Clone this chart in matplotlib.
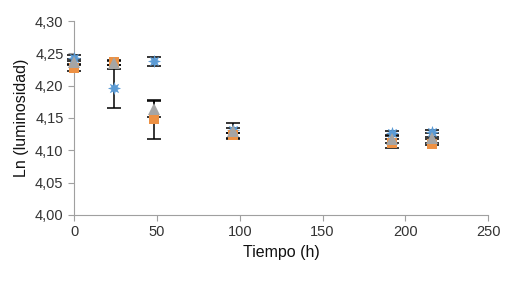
import matplotlib
matplotlib.use("Agg")
import matplotlib.pyplot as plt
from matplotlib.ticker import FuncFormatter

plt.rcParams['font.family'] = ['Liberation Sans', 'DejaVu Sans']

# ---------------- Data ----------------
tiempo = [0, 24, 48, 96, 192, 216]

blue = [4.243, 4.196, 4.238, 4.131, 4.126, 4.129]
blue_err = [0.005, 0.030, 0.007, 0.004, 0.004, 0.002]

orange = [4.227, 4.236, 4.148, 4.123, 4.111, 4.110]
orange_err = [0.005, 0.004, 0.030, 0.004, 0.007, 0.002]

gray = [4.237, 4.235, 4.164, 4.130, 4.117, 4.119]
gray_err = [0.004, 0.003, 0.012, 0.012, 0.006, 0.002]

# ---------------- Plot ----------------
fig = plt.figure(figsize=(5.07, 2.92), dpi=100)
ax = fig.add_axes([0.146, 0.264, 0.817, 0.664])

series = [
    (blue, blue_err, (8, 1, 0), 9.5, '#5b9bd5'),
    (orange, orange_err, 's', 7.5, '#ed9144'),
    (gray, gray_err, '^', 8, '#a5a5a5'),
]

# error bars first (black with caps)
for vals, errs, mk, ms, col in series:
    ax.errorbar(tiempo, vals, yerr=errs, fmt='none', ecolor='black',
                elinewidth=1.1, capsize=5, capthick=1.1, clip_on=False, zorder=2)

# markers on top
for vals, errs, mk, ms, col in series:
    ax.plot(tiempo, vals, linestyle='none', marker=mk, markersize=ms,
            color=col, markeredgewidth=0, clip_on=False, zorder=3)

ax.set_xlim(0, 250)
ax.set_ylim(4.00, 4.30)
ax.set_xticks([0, 50, 100, 150, 200, 250])
ax.set_yticks([4.00, 4.05, 4.10, 4.15, 4.20, 4.25, 4.30])
ax.yaxis.set_major_formatter(FuncFormatter(lambda v, p: f"{v:.2f}".replace('.', ',')))

for s in ['top', 'right']:
    ax.spines[s].set_visible(False)
for s in ['left', 'bottom']:
    ax.spines[s].set_color('#a0a0a0')
ax.tick_params(axis='both', colors='#a0a0a0', labelcolor='#333333',
               labelsize=10.5, length=4, direction='out')

ax.set_xlabel("Tiempo (h)", fontsize=11.5, color='#111111')
ax.set_ylabel("Ln (luminosidad)", fontsize=11.5, color='#111111')

fig.savefig("out.png", dpi=100)
